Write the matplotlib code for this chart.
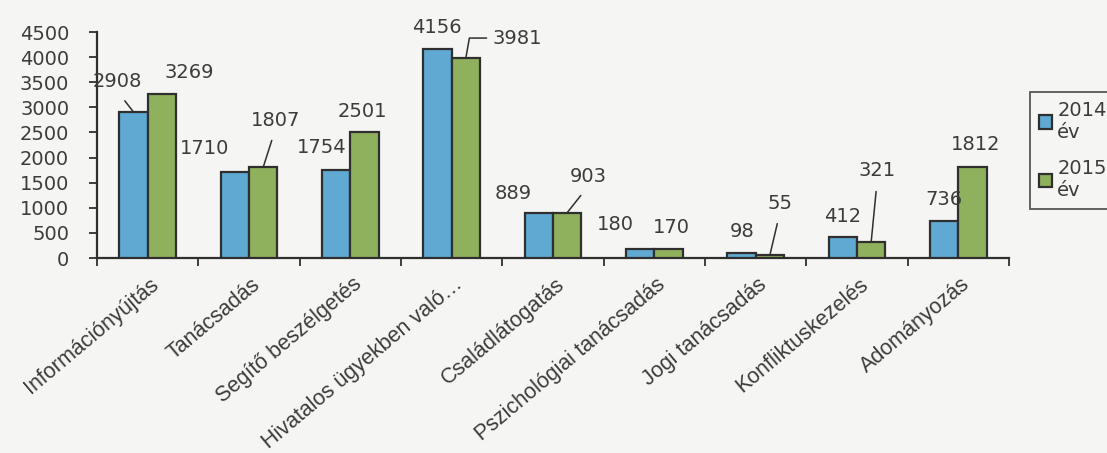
import matplotlib
matplotlib.use('Agg')
import matplotlib.pyplot as plt
import numpy as np

categories = ['Információnyújtás', 'Tanácsadás', 'Segítő beszélgetés',
              'Hivatalos ügyekben való…', 'Családlátogatás',
              'Pszichológiai tanácsadás', 'Jogi tanácsadás',
              'Konfliktuskezelés', 'Adományozás']
values_2014 = [2908, 1710, 1754, 4156, 889, 180, 98, 412, 736]
values_2015 = [3269, 1807, 2501, 3981, 903, 170, 55, 321, 1812]
series_names = ['2014\név', '2015\név']
yticks = list(range(0, 4501, 500))

# style: label offsets (pixels, dx, dy-up) and which labels use leader lines
off_2014 = [(-16, 30), (-30, 24), (-14, 22), (-1, 22), (-26, 20), (-25, 24), (1, 22), (0, 21), (0, 22)]
off_2015 = [(27, 21), (12, 47), (-2, 21), (51, 20), (21, 36), (3, 22), (10, 52), (6, 71), (3, 22)]
lead_2014 = {0}
lead_2015 = {1, 4, 6, 7}
elbow_2015 = {3}

BLUE = '#5fa9d2'
GREEN = '#8fb05c'
EDGE = '#2f2f2f'
TXT = '#3c3c3c'
BG = '#f5f5f3'

plt.rcParams['font.family'] = ['DejaVu Sans']

fig = plt.figure(figsize=(11.07, 4.53), dpi=100, facecolor=BG)
W, H = 1107, 453
ax = fig.add_axes([97 / W, 1 - 258 / H, (1009 - 97) / W, (258 - 32) / H])
ax.set_facecolor(BG)

x = np.arange(len(categories))
bw = 0.28
b1 = ax.bar(x - bw / 2, values_2014, width=bw, color=BLUE, edgecolor=EDGE, linewidth=1.6,
            label=series_names[0], zorder=3)
b2 = ax.bar(x + bw / 2, values_2015, width=bw, color=GREEN, edgecolor=EDGE, linewidth=1.6,
            label=series_names[1], zorder=3)

ax.set_xlim(-0.5, len(categories) - 0.5)
ax.set_ylim(0, 4500)
ax.set_yticks(yticks)
ax.set_yticklabels([str(t) for t in yticks], fontsize=14, color=TXT)
ax.tick_params(axis='y', direction='out', length=6, width=1.3, color=EDGE, pad=14)

ax.set_xticks(np.arange(len(categories) + 1) - 0.5)
ax.set_xticklabels([])
ax.tick_params(axis='x', direction='out', length=6, width=1.3, color=EDGE)

for i, cat in enumerate(categories):
    ax.annotate(cat, xy=(x[i], 0), xycoords=('data', 'axes fraction'),
                xytext=(2, -16), textcoords='offset pixels',
                rotation=40, rotation_mode='anchor', ha='right', va='top',
                fontsize=15.5, color=TXT, family=['Liberation Sans', 'DejaVu Sans'],
                annotation_clip=False)

for s in ['top', 'right']:
    ax.spines[s].set_visible(False)
for s in ['left', 'bottom']:
    ax.spines[s].set_color(EDGE)
    ax.spines[s].set_linewidth(1.6)


def label(xc, v, off, leader=False, elbow=False):
    kw = dict(xy=(xc, v), xytext=(off[0], off[1]), textcoords='offset pixels',
              ha='center', va='center', fontsize=14, color=TXT, zorder=4)
    if leader:
        kw['arrowprops'] = dict(arrowstyle='-', color=EDGE, lw=1.1, shrinkA=6, shrinkB=0,
                                relpos=(0.5, 0))
    if elbow:
        kw['arrowprops'] = dict(arrowstyle='-', color=EDGE, lw=1.1, shrinkA=2, shrinkB=0,
                                relpos=(0, 0.5),
                                connectionstyle='angle,angleA=0,angleB=80,rad=0')
    ax.annotate(str(v), **kw)


for i in range(len(categories)):
    label(x[i] - bw / 2, values_2014[i], off_2014[i], leader=i in lead_2014)
    label(x[i] + bw / 2, values_2015[i], off_2015[i], leader=i in lead_2015,
          elbow=i in elbow_2015)

leg = fig.legend(handles=[b1, b2], labels=series_names, loc='upper left',
                 bbox_to_anchor=(1030 / W, 1 - 92 / H), frameon=True, fancybox=False,
                 fontsize=14, labelcolor=TXT, handlelength=0.7, handleheight=0.7,
                 handletextpad=0.25, borderpad=0.45, labelspacing=0.9,
                 borderaxespad=0)
leg.get_frame().set_edgecolor(EDGE)
leg.get_frame().set_linewidth(1.3)
leg.get_frame().set_facecolor(BG)

fig.savefig('out.png', dpi=100, facecolor=BG)
